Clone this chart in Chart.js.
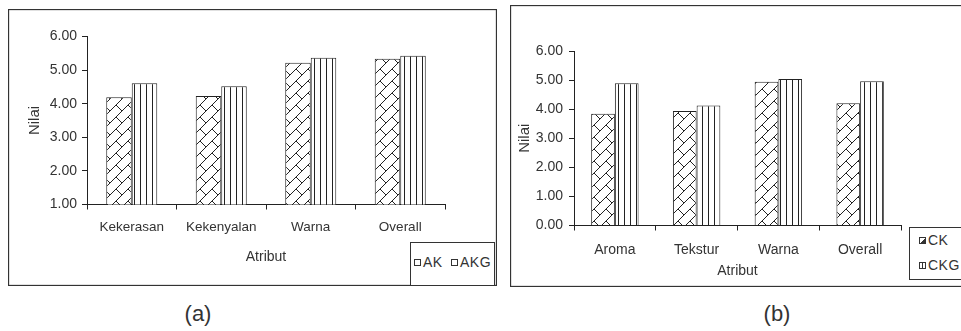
<!DOCTYPE html>
<html>
<head>
<meta charset="utf-8">
<script src="https://cdn.jsdelivr.net/npm/chart.js@4/dist/chart.umd.min.js"></script>
<style>
  html, body { margin: 0; padding: 0; background: #fff; overflow: hidden; }
  body { width: 961px; height: 331px; position: relative; font-family: "Liberation Sans", Arial, sans-serif; color: #333; }
  canvas { position: absolute; }
  #cA { left: 8px; top: 9px; }
  #cB { left: 510px; top: 5px; }
  .legend { position: absolute; border: 1px solid #333; background: #fff; box-sizing: border-box; }
  .mk { position: absolute; width: 7px; height: 7px; border: 1px solid #333; box-sizing: border-box; background: #fff; }
  .lt { position: absolute; font-size: 14px; line-height: 16px; letter-spacing: 0.5px; color: #333; white-space: nowrap; }
  .cap { position: absolute; font-size: 22px; line-height: 24px; color: #333; transform: translateX(-50%); }
</style>
</head>
<body>
<canvas id="cA" width="489" height="277"></canvas>
<canvas id="cB" width="455" height="282"></canvas>

<div class="legend" style="left:410px; top:242px; width:85px; height:44px;"></div>
<div id="legA"></div>

<div class="legend" style="left:909px; top:227px; width:60px; height:53px;"></div>
<div id="legB"></div>

<div class="cap" style="left:198px; top:302px;">(a)</div>
<div class="cap" style="left:777px; top:302px;">(b)</div>

<script>
// Panel (a): sensory scores of AK vs AKG
const kategoriA = ['Kekerasan', 'Kekenyalan', 'Warna', 'Overall'];
const nilaiAK  = [4.19, 4.23, 5.22, 5.34];
const nilaiAKG = [4.61, 4.52, 5.37, 5.43];

// Panel (b): sensory scores of CK vs CKG
const kategoriB = ['Aroma', 'Tekstur', 'Warna', 'Overall'];
const nilaiCK  = [3.84, 3.94, 4.94, 4.20];
const nilaiCKG = [4.89, 4.13, 5.04, 4.96];

const seriesA = ['AK', 'AKG'];
const seriesB = ['CK', 'CKG'];

const INK = '#222';
const TEXT = '#333';
Chart.defaults.font.family = '"Liberation Sans", Arial, sans-serif';
Chart.defaults.color = TEXT;

// Brick-like diagonal hatch
function brickPattern() {
  const s = 12;
  const c = document.createElement('canvas');
  c.width = s; c.height = s;
  const g = c.getContext('2d');
  g.fillStyle = '#fff';
  g.fillRect(0, 0, s, s);
  g.strokeStyle = INK;
  g.lineWidth = 1;
  g.beginPath();
  g.moveTo(-2, s + 2); g.lineTo(s + 2, -2);
  g.moveTo(-2, 2); g.lineTo(2, -2);
  g.moveTo(s - 2, s + 2); g.lineTo(s + 2, s - 2);
  g.moveTo(0, 0); g.lineTo(s / 2, s / 2);
  g.stroke();
  return g.createPattern(c, 'repeat');
}

// Vertical stripes
function stripePattern() {
  const c = document.createElement('canvas');
  c.width = 6; c.height = 6;
  const g = c.getContext('2d');
  g.fillStyle = '#fff';
  g.fillRect(0, 0, 6, 6);
  g.fillStyle = INK;
  g.fillRect(0, 0, 1, 6);
  return g.createPattern(c, 'repeat');
}

const frame = {
  id: 'frame',
  afterDraw(chart) {
    const ctx = chart.ctx;
    ctx.save();
    ctx.strokeStyle = '#333';
    ctx.lineWidth = 1.3;
    ctx.strokeRect(0.5, 0.5, chart.width - 1, chart.height - 1);
    ctx.restore();
  }
};

function makeChart(id, labels, names, values, opt) {
  return new Chart(document.getElementById(id), {
    type: 'bar',
    data: {
      labels: labels,
      datasets: [
        { label: names[0], data: values[0], backgroundColor: brickPattern(), borderColor: INK, borderWidth: 1,
          categoryPercentage: opt.cat, barPercentage: 1.0 },
        { label: names[1], data: values[1], backgroundColor: stripePattern(), borderColor: INK, borderWidth: 1,
          categoryPercentage: opt.cat, barPercentage: 1.0 }
      ]
    },
    options: {
      responsive: false,
      animation: false,
      devicePixelRatio: 1,
      layout: { padding: opt.pad },
      plugins: { legend: { display: false }, tooltip: { enabled: false } },
      scales: {
        x: {
          grid: { drawOnChartArea: false, drawTicks: true, tickLength: 5, color: INK, offset: true },
          border: { display: true, color: INK, width: 1 },
          ticks: { font: { size: opt.xFont }, padding: opt.xPad, color: TEXT, maxRotation: 0 },
          title: { display: true, text: 'Atribut', font: { size: 14 }, color: TEXT,
                   padding: { top: 0, bottom: opt.xTitlePad } },
          afterFit(s) { s.height = opt.xH; }
        },
        y: {
          min: opt.min, max: 6,
          grid: { drawOnChartArea: false, drawTicks: true, tickLength: 5, color: INK },
          border: { display: true, color: INK, width: 1 },
          ticks: { stepSize: 1, font: { size: 14 }, padding: opt.yPad, color: TEXT,
                   callback: v => Number(v).toFixed(2) },
          title: { display: true, text: 'Nilai', font: { size: 15 }, color: TEXT,
                   padding: { top: opt.yTitlePad, bottom: 0 } },
          afterFit(s) { s.width = opt.yW; }
        }
      }
    },
    plugins: [frame]
  });
}

makeChart('cA', kategoriA, seriesA, [nilaiAK, nilaiAKG], {
  cat: 0.57, min: 1,
  pad: { left: 0, top: 27.5, right: 52, bottom: 0 },
  yW: 79, xH: 81.5, xFont: 13.5, xPad: 10, xTitlePad: 20, yPad: 5, yTitlePad: 18
});

makeChart('cB', kategoriB, seriesB, [nilaiCK, nilaiCKG], {
  cat: 0.58, min: 0,
  pad: { left: 0, top: 46, right: 64, bottom: 0 },
  yW: 64, xH: 61.5, xFont: 14, xPad: 11, xTitlePad: 7, yPad: 6, yTitlePad: 6
});

// Boxed legends
function legendItem(host, x, y, text, kind) {
  const m = document.createElement('span');
  m.className = 'mk';
  m.style.left = x + 'px';
  m.style.top = y + 'px';
  if (kind === 'stripe') {
    m.style.background = 'linear-gradient(90deg, #fff 2.5px, #333 2.5px, #333 3.5px, #fff 3.5px)';
  } else if (kind === 'brick') {
    m.style.background = 'linear-gradient(135deg, #fff 55%, #333 55%)';
  }
  host.appendChild(m);
  const t = document.createElement('span');
  t.className = 'lt';
  t.textContent = text;
  t.style.left = (x + 9) + 'px';
  t.style.top = (y - 5) + 'px';
  host.appendChild(t);
}
const legA = document.getElementById('legA');
legendItem(legA, 414, 259, seriesA[0], 'plain');
legendItem(legA, 451, 259, seriesA[1], 'plain');
const legB = document.getElementById('legB');
legendItem(legB, 919, 237, seriesB[0], 'brick');
legendItem(legB, 919, 262, seriesB[1], 'stripe');
</script>
</body>
</html>
